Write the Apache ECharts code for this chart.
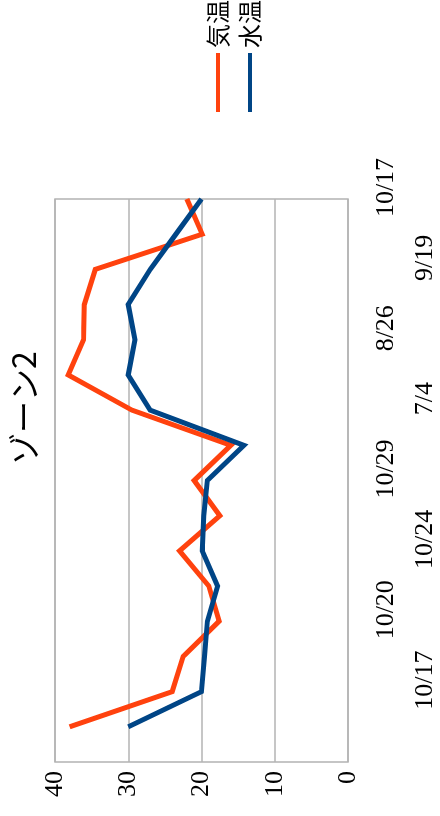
<!DOCTYPE html>
<html>
<head>
<meta charset="utf-8">
<script src="https://cdn.jsdelivr.net/npm/echarts@6/dist/echarts.min.js"></script>
<style>
  html, body { margin: 0; padding: 0; background: #fff; overflow: hidden; }
  #chart {
    position: absolute; left: 0; top: 0;
    width: 816px; height: 440px;
    transform-origin: 0 0;
    transform: translateY(816px) rotate(-90deg);
  }
</style>
</head>
<body>
<div id="chart"></div>
<script>
// Categories (first slot is an empty leading category)
const categories = ['', '', '10/17', '', '10/20', '', '10/24', '', '10/29', '', '7/4', '', '8/26', '', '9/19', '', '10/17'];
const airTemp   = [null, 38, 24, 22.5, 17.6, 19, 23, 17.5, 21, 16, 29.5, 38.2, 36.1, 36, 34.5, 19.9, 22];
const waterTemp = [null, 30, 20, 19.6, 19.2, 17.8, 19.9, 19.7, 19.2, 14.2, 27, 30, 29.1, 30, 27, 23.5, 20];
const valueTicks = { min: 0, max: 40, interval: 10 };
const seriesNames = ['気温', '水温'];
const titleText = 'ゾーン2';

const chart = echarts.init(document.getElementById('chart'), null, { renderer: 'canvas', width: 816, height: 440 });

const serif = '"Liberation Serif", "DejaVu Serif", "Times New Roman", serif';
const sans = '"Noto Sans CJK JP", sans-serif';

chart.setOption({
  animation: false,
  backgroundColor: '#ffffff',
  title: {
    text: titleText,
    left: 'center',
    top: 8,
    padding: 0,
    textStyle: { fontFamily: sans, fontSize: 32, fontWeight: 'normal', color: '#000', lineHeight: 32 }
  },
  legend: {
    orient: 'vertical',
    left: 704,
    top: 206,
    padding: 0,
    itemGap: 8,
    itemWidth: 59,
    itemHeight: 4,
    icon: 'rect',
    textStyle: { fontFamily: sans, fontSize: 24, color: '#000' },
    data: seriesNames
  },
  grid: {
    left: 54, right: 199, top: 55, bottom: 92,
    show: true, borderColor: '#b3b3b3', borderWidth: 1.5,
    containLabel: false
  },
  xAxis: {
    type: 'category',
    data: categories,
    boundaryGap: false,
    axisLine: { show: false },
    axisTick: { show: false },
    splitLine: { show: false },
    axisLabel: {
      interval: 0,
      margin: 25,
      formatter: function (v, i) {
        if (!v) return '';
        return (i % 4 === 2 ? '{far|' : '{near|') + v + '}';
      },
      rich: {
        near: { fontFamily: serif, fontSize: 26, color: '#000', lineHeight: 26, padding: [0, 0, 0, 23] },
        far:  { fontFamily: serif, fontSize: 26, color: '#000', lineHeight: 26, padding: [78, 0, 0, 23] }
      }
    }
  },
  yAxis: {
    type: 'value',
    min: valueTicks.min, max: valueTicks.max, interval: valueTicks.interval,
    axisLine: { show: false },
    axisTick: { show: false },
    splitLine: { show: true, lineStyle: { color: '#b3b3b3', width: 1.5 } },
    axisLabel: { margin: 9, fontFamily: serif, fontSize: 26, color: '#000' }
  },
  series: [
    {
      name: seriesNames[0], type: 'line', data: airTemp,
      symbol: 'none', connectNulls: false,
      itemStyle: { color: '#ff420e' },
      lineStyle: { color: '#ff420e', width: 5, join: 'miter', cap: 'butt' }
    },
    {
      name: seriesNames[1], type: 'line', data: waterTemp,
      symbol: 'none', connectNulls: false,
      itemStyle: { color: '#004586' },
      lineStyle: { color: '#004586', width: 5, join: 'miter', cap: 'butt' }
    }
  ]
});
</script>
</body>
</html>
